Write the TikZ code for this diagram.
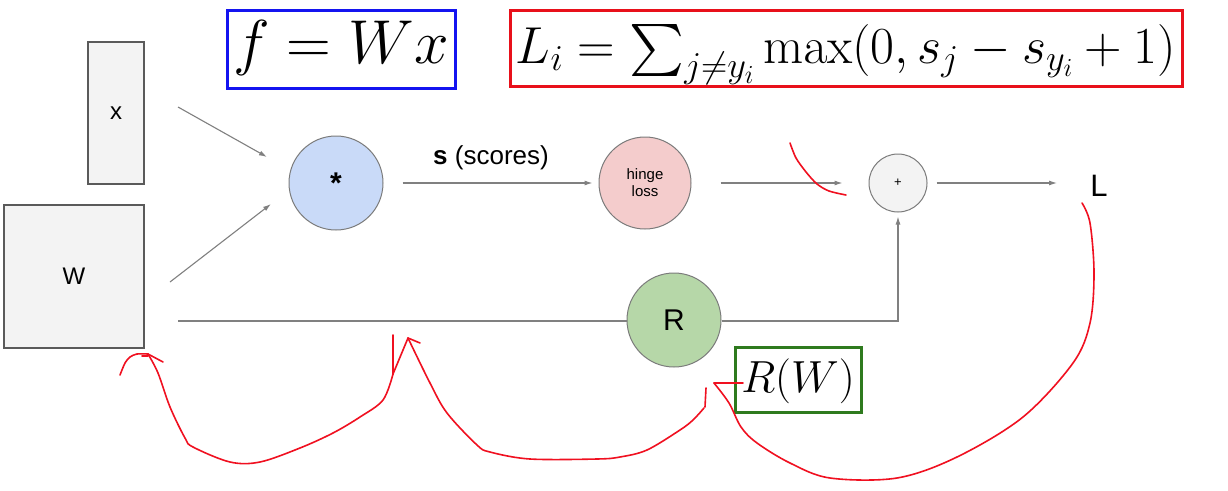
\RequirePackage{fix-cm}
\documentclass[tikz,border=0pt]{standalone}
\usepackage[no-math]{fontspec}
\setmainfont{Liberation Sans}
\usepackage{amsmath}
\usepackage{graphicx}
\usetikzlibrary{arrows.meta}
\definecolor{boxfill}{HTML}{F3F3F3}
\definecolor{boxdraw}{HTML}{5A5A5A}
\definecolor{mulfill}{HTML}{C9DAF8}
\definecolor{hingefill}{HTML}{F4CCCC}
\definecolor{rfill}{HTML}{B6D7A8}
\definecolor{edgecol}{HTML}{808080}
\definecolor{bluebox}{HTML}{1414F0}
\definecolor{redbox}{HTML}{E8101A}
\definecolor{greenbox}{HTML}{2E7A1E}
\definecolor{pencol}{HTML}{F01020}
\newcommand{\bigsumop}{\mathop{\text{\fontsize{10}{12}\selectfont\scalebox{5.2}{$\textstyle\sum$}}}\nolimits}
\begin{document}
\begin{tikzpicture}[x=1pt,y=-1pt,
  box/.style={draw=boxdraw, fill=boxfill, line width=1.2pt, inner sep=0pt},
  opnode/.style={circle, draw=boxdraw!80, line width=1pt, inner sep=0pt},
  arr/.style={draw=edgecol, line width=1.1pt, -{Latex[length=8pt,width=5pt]}},
  wire/.style={draw=edgecol, line width=1.1pt},
  penline/.style={draw=pencol, line width=1.6pt, line cap=round, line join=round},
  formula/.style={draw, line width=3pt, inner sep=0pt},
  big/.style={font=\fontsize{24}{28}\selectfont}]
\path[use as bounding box, fill=white] (0,0) rectangle (1228,490);

% input boxes
\node[box, big, minimum width=56pt, minimum height=142pt] (x) at (116,113) {x};
\node[box, big, minimum width=140pt, minimum height=143pt] (W) at (74,276.5) {W};

% formulas
\node[formula, draw=bluebox, minimum width=228pt, minimum height=78pt] (f) at (341,49) {};
\node[anchor=base, inner sep=0pt, font=\fontsize{62}{70}\selectfont] (ftext) at (341,63) {$f = Wx$};
\node[formula, draw=redbox, minimum width=672pt, minimum height=76pt] (Li) at (846,48) {};
\node[anchor=base, inner sep=0pt, font=\fontsize{52}{58}\selectfont] (Litext) at (846,63) {$L_i = \bigsumop_{j\neq y_i}\max(0, s_j - s_{y_i} + 1)$};
\node[formula, draw=greenbox, minimum width=126pt, minimum height=65pt] (RW) at (798,379.5) {};
\node[anchor=base, inner sep=0pt, font=\fontsize{45}{50}\selectfont] (RWtext) at (798,392) {$R(W)$};

% operation nodes
\node[opnode, fill=mulfill, minimum size=94pt, font=\fontsize{30}{30}\selectfont\bfseries] (mul) at (336,183) {*};
\node[opnode, fill=hingefill, minimum size=92pt, font=\fontsize{15}{17}\selectfont, align=center] (hinge) at (645,183) {hinge\\loss};
\node[opnode, fill=boxfill, minimum size=58pt, font=\fontsize{13}{13}\selectfont] (plus) at (898,183) {+};
\node[opnode, fill=rfill, minimum size=94pt, font=\fontsize{30}{30}\selectfont] (R) at (674,320) {R};
\node[font=\fontsize{31}{31}\selectfont, inner sep=0pt] (L) at (1099,186) {L};

% connectors
\coordinate (xa) at (178,107);
\coordinate (xb) at (267,157);
\coordinate (wa) at (170,282);
\coordinate (wb) at (271,204);
\coordinate (ra) at (178,321);
\coordinate (rc) at (898,321);
\coordinate (le) at (1057,183);
\draw[arr] (xa) -- (xb);
\draw[arr] (wa) -- (wb);
\draw[arr, shorten <=19pt, shorten >=6pt] (mul) -- node[above=9pt, font=\fontsize{26}{28}\selectfont] (slab) {\textbf{s} (scores)} (hinge);
\draw[arr, shorten <=29pt, shorten >=26pt] (hinge) -- (plus);
\draw[arr, shorten <=9pt] (plus.east) -- (le);
\draw[wire] (ra) -- (R.west |- ra);
\draw[arr, shorten >=4pt] (R.east |- rc) -- (rc) -- (plus.south);

% red hand-drawn strokes
\draw[penline] plot[smooth] coordinates {(790,143) (796,158) (806,172) (817,184) (829,191) (846,195)};
\draw[penline] plot[smooth, tension=0.55] coordinates {(1082,203) (1090,223) (1094,273) (1090,323) (1073,363) (1023,417) (957,457) (897,478) (830,478) (790,463) (757,443) (741,427) (729,403) (714,383)};
\draw[penline] (714,383) -- (743,383);
\draw[penline] (706,388) -- (705,407);
\draw[penline] plot[smooth, tension=0.55] coordinates {(704,408) (693,420) (680,430) (647,450) (620,457) (597,459) (530,459) (490,452) (477,445) (447,413) (430,383) (408,338)};
\draw[penline] (408,338) -- (420,343);
\draw[penline] (393,335) -- (393,374);
\draw[penline] (393,374) -- (408,338);
\draw[penline] plot[smooth, tension=0.55] coordinates {(393,374) (383,400) (360,417) (333,433) (300,448) (260,462) (230,462) (193,447) (185,438) (170,407) (158,373) (148,354)};
\draw[penline] (148,354) -- (163,362);
\draw[penline] (142,356) -- (148,356);
\draw[penline] plot[smooth] coordinates {(120,375) (125,363) (130,357) (137,354) (148,354)};
\end{tikzpicture}
\end{document}
